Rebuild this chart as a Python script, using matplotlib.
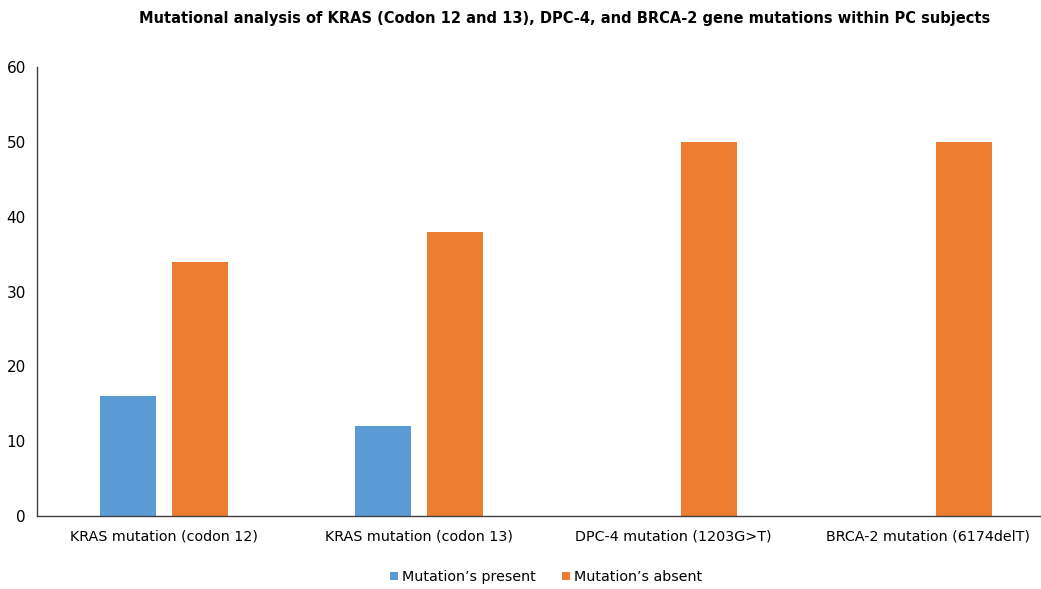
import matplotlib
matplotlib.use("Agg")
import matplotlib.pyplot as plt
import numpy as np

categories = ["KRAS mutation (codon 12)", "KRAS mutation (codon 13)",
              "DPC-4 mutation (1203G>T)", "BRCA-2 mutation (6174delT)"]
present = [16, 12, 0, 0]
absent = [34, 38, 50, 50]
series_names = ["Mutation’s present", "Mutation’s absent"]
title = "Mutational analysis of KRAS (Codon 12 and 13), DPC-4, and BRCA-2 gene mutations within PC subjects"

plt.rcParams['font.family'] = ['DejaVu Sans']
W, H = 1041, 589
fig = plt.figure(figsize=(W/100, H/100), dpi=100)
left, right, bottom, top = 37, 1041, 516, 67
ax = fig.add_axes([left/W, 1-bottom/H, (right-left)/W, (bottom-top)/H])

x = np.arange(len(categories))
w = 0.22
ax.bar(x - 0.142, present, width=w, color="#5B9BD5", label=series_names[0])
ax.bar(x + 0.142, absent, width=w, color="#ED7D31", label=series_names[1])

ax.set_ylim(0, 60)
ax.set_yticks(range(0, 61, 10))
ax.set_xlim(-0.5, 3.5 - (1055-1041)/254.5)
ax.set_xticks(x)
ax.set_xticklabels(categories)
for s in ["top", "right"]:
    ax.spines[s].set_visible(False)
for s in ["left", "bottom"]:
    ax.spines[s].set_color("#404040")
    ax.spines[s].set_linewidth(1.0)
ax.tick_params(axis="both", length=0, colors="black")
ax.tick_params(axis="x", pad=10, labelsize=10.3)
ax.tick_params(axis="y", pad=8, labelsize=11)

fig.text(565/W, 1-18/H, title, ha="center", va="center", fontsize=10.5, fontweight="bold")
fig.legend(loc="center", bbox_to_anchor=(546/W, 1-577/H), ncol=2, frameon=False,
           fontsize=10.3, handlelength=0.55, handleheight=0.55, handletextpad=0.3, columnspacing=1.8)
fig.savefig("out.png", dpi=100)
